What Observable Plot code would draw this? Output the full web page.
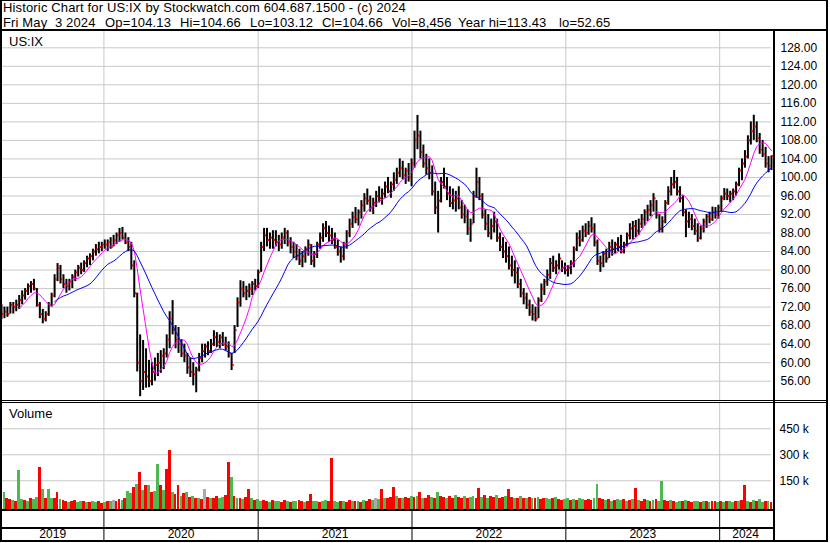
<!DOCTYPE html>
<html><head><meta charset="utf-8">
<script src="https://cdn.jsdelivr.net/npm/d3@7"></script>
<script src="https://cdn.jsdelivr.net/npm/@observablehq/plot@0.6"></script>
<style>
body{margin:0;background:#fff;}
#root{position:relative;width:830px;height:543px;overflow:hidden;background:#fff;font-family:Arial,"Liberation Sans",sans-serif;color:#000;}
.ln{position:absolute;background:#000;}
.txt{position:absolute;white-space:pre;font-size:13px;line-height:13px;letter-spacing:0.15px;}
.panel{position:absolute;left:0;}
</style></head>
<body><div id="root">
<div class="txt" id="t1" style="left:3px;top:1.3px"></div>
<div id="t2"></div>
<div class="panel" id="price" style="top:31px"></div>
<div class="panel" id="volume" style="top:402px"></div>
<div class="panel" id="band" style="top:509px"></div>
<div class="txt" id="lab1" style="left:9px;top:34.7px;letter-spacing:0"></div>
<div class="txt" id="lab2" style="left:9px;top:406.7px;letter-spacing:0"></div>
<div class="ln" style="left:0;top:0;width:828px;height:1px"></div>
<div class="ln" style="left:0;top:0;width:2px;height:542px"></div>
<div class="ln" style="left:826px;top:0;width:2px;height:542px"></div>
<div class="ln" style="left:0;top:540px;width:828px;height:2px"></div>
<div class="ln" style="left:0;top:29px;width:828px;height:2px"></div>
<div class="ln" style="left:0;top:400px;width:828px;height:1px"></div>
<div class="ln" style="left:0;top:402px;width:828px;height:1px"></div>
<div class="ln" style="left:0;top:509px;width:775px;height:2px"></div>
<div class="ln" style="left:0;top:527px;width:775px;height:2px"></div>
<div class="ln" style="left:773px;top:31px;width:2px;height:511px"></div>
</div>
<script>
// ---------- text ----------
const titleLine = "Historic Chart for US:IX by Stockwatch.com 604.687.1500 - (c) 2024";
const infoFields = ["Fri May  3 2024", "Op=104.13", "Hi=104.66", "Lo=103.12", "Cl=104.66", "Vol=8,456", "Year hi=113.43", "lo=52.65"];
const symbolLabel = "US:IX";
const volumeLabel = "Volume";
// layout (left edge of each info field, px)
const infoLeft = [3, 105, 180, 250, 322, 392, 458, 559];

// ---------- data (weekly, first week ending 2019-05-03) ----------
const startDate = "2019-05-03";
const endDate = "2024-05-03";
const yearLabels = ["2019", "2020", "2021", "2022", "2023", "2024"];
const priceTicks = [56, 60, 64, 68, 72, 76, 80, 84, 88, 92, 96, 100, 104, 108, 112, 116, 120, 124, 128];
const volumeTicks = [150000, 300000, 450000];

const hi = [
72.5,72,72,73,73,73.5,74.5,75.5,76,77,77.5,78,76,73,71.5,71,73,75,79,81.4,81,79,78,78,79,80,81,81.5,82,83,
83.5,
84.5,85.5,86,86,86.5,86.5,87,87.5,88,89, 89.2,88,87,86,82,75,66,64.8,63,60.5, 60,61,62,62.6,63,66,71,73.4,68,67.6, 65,64,62,61,60,59,62,64,64,64.5, 65,66.9,66.5,66,66.5,65.5,64.5,62,68,74, 77.7,77.5,76.5,77,77.5,78,80,86,89,89, 88,
88.5,
88.5,87.5,88,89,88.5,87,86,85.5,84.5,84, 85,86.5,85.5,84,86,88,90,90.5,89.5,89, 88,86.5,85,86,88.5,91,92.5,93.5,93,95, 96.5,97.5,96,95.5,97,98,97.5,99,100,99, 101,102,104,103.5,102,103,104,110,113.4,110, 107,105,104,102.5,99,97,100,102,100,98,
97.5,
97,98,95,94,93,91,97,102,100,96.5, 93,92,91,92.5,91,88,87,86,85,83, 82,80.5,78,76,75,73.5,72.5,72,74,77, 78,80,82.5,83,82,83.5,82,81.5,81,82, 85,88,88.5,89.5,90,90.5,91.3,90,86.5,83, 84,84.5,86,86.5,86,87,87.5,86,88,90,
90.5,
90.7,91,92,93,94,95,96.5,95,92,91.5, 95,98,100,101.5,100,98,96,93,92.5,92, 91,90,89.5,91,92,92.5,93.6,93.5,94,96, 97.6,97.5,97,97.5,99,102,104,105.8,109,112, 113.43,112,109.5,108,106.5,104.5,104.66
];
const lo = [
69.3,69.5,69.8,70.5,70.5,71,71.5,72.5,73.5,74.5,75,75.5,72,69.5,68.4,68.8,70,72,74,77.5,77,76,75,75.5,76,77.5,78.5,79,79.5,80.5,
81,
82,83,83.5,84,84.5,84,84.5,85,85.5,86, 86.5,85.5,84,80,74,58,52.65,54,54.5,54.6, 55,56,57,57.7,58.5,61,63,66,63,62, 61.1,60,57.5,56.8,55,53.5,58,60,61,61.5, 62,63.5,63.3,63,63.5,62.5,61,58.3,62,67.6, 72,74,73.4,74,74.5,75.5,76,79.5,84,85, 84.5,
84.5,
85,84,84.5,85.5,85,83.5,82.5,82,81,80.5, 81.5,83,81,80.5,82.5,84.5,86,87,86,85.5, 84.5,83,81.5,82,84.5,87,89,90,89.5,91, 92.5,94,92.5,92,93.5,94.5,94,95.5,96.5,95.5, 97,98.5,100,99.5,98.5,99,98,102,106,104, 102,100.5,99.5,96,92,88,94.5,97.5,95,93.5,
93,
92.5,93,91,90,87.5,86,90,95.5,95,91, 88.5,87,86.5,88,86,84,82.5,81.5,80,78.5, 77,76,74,72.5,71.5,70,69,68.8,69.5,73, 74.5,76.5,78,79.5,79,80,79.5,79,78.5,79, 80.5,84,85,86,87,87.5,88,85,81,79.5, 80.5,81.5,82.5,83,83.5,84,83.5,83.5,85,86.5,
86.5,
87,87.5,89,89.5,90.5,91.5,92.5,91,88,88, 90,94,96,97.5,96,94.5,91.5,87,89,88.5, 87.5,86,86.5,88,89,90,90.5,91,91,92.5, 95,95,94.5,95,96,98,99.3,102,104,107, 108,107.5,105,104.3,102,101,101.5
];
const cl = [
70.5,71,70.5,72.5,72,72.5,73.5,74.5,75.5,76.5,77,76,72.5,70.5,69.5,70.5,72.5,74.5,78,80.5,78,77,76.5,77.5,78.5,79.5,80.5,80,81.5,82.5,
83,
84,84.5,85,85.5,85.5,86,85,86.5,87.5,88, 87,86,85,81,75,60,56,58,57,56, 58,59.5,60,61.5,62,65,69.5,67,65,64, 62,61.5,59,58,57.5,58.5,61,62.5,63.5,62.5, 64,65.5,64.5,65.5,64,63.5,62,59.5,67,73, 76,75,75.5,76,77,76.5,79.5,85,87.5,86.5, 87,
86.5,
86,85.5,87,88,86,85,84,83,82,83, 84.5,85.5,82,83.5,85.5,87,89,88,87.5,86.5, 85,84,83,85.5,88,90,91.5,91,92.5,94, 95.5,95,93.5,94.5,96,95.5,96.5,98,97,98.5, 99.5,101,102,100.5,101.5,100,103,108,109,105.5, 103,102,101,97,93.5,95,99,98,96.5,94.5,
95,
95.5,93.5,92,91.5,89,90,96,99,96,92, 90,88,89.5,90.5,87,85,84,83,81,80, 79.5,77,75,74,72.5,71,70.5,69.5,73.5,76, 77.5,79,81.5,80.5,81,82.5,80.5,80,80.5,81.5, 84.5,87,86.5,88.5,88,89.5,89,86,82,81.5, 83.5,82.5,85,84.5,85.5,85,84,85.5,87.5,89,
89.5,
88.5,90,91,92.5,93,94,95.5,92,89,90.5, 94.5,97,98.5,99,97,95.5,92.5,90.5,91,89.5, 88.5,87,89,90.5,91.5,91,92.5,92,93.5,95.5, 96.5,96,96.5,97,98.5,101.5,103,104.5,108,110, 111,108.5,106,105,103,102.5,104.66
];
// weekly volume, thousands
const vol = [
60,85,45,40,35,30,210,40,35,30, 45,40,55,225,98,50,100,45,50,85, 40,35,30,25,30,35,25,30,28,25,
25,30,25,30,20,25,30,28,35,30, 40,35,45,90,75,110,130,200,95,125, 120,85,90,243,120,95,215,325,80,70,
125,60,75,80,55,60,50,45,40,100, 55,50,45,60,50,55,65,254,170,60, 50,45,40,55,100,45,35,40,30,35,
30,25,35,30,28,25,35,30,25,30, 28,35,30,25,30,70,30,28,25,30, 35,30,279,30,25,28,30,25,35,30,
28,30,25,35,30,40,35,45,40,100, 50,45,55,110,60,45,50,55,45,60, 55,60,85,50,45,65,55,50,85,60,
55,45,60,50,65,55,45,60,50,55, 60,50,105,55,65,50,60,55,65,50, 55,60,100,55,50,45,60,50,45,55,
50,45,55,40,45,50,40,45,55,40, 35,40,45,35,40,35,45,40,35,40, 35,45,130,45,40,35,40,30,35,40,
35,40,30,35,40,107,35,30,40,35, 30,35,40,30,148,35,30,35,30,25, 30,28,35,30,25,30,28,25,30,28,
25,30,28,25,30,25,28,30,25,28, 30,35,120,30,25,35,28,40,25,30, 28,25
];
// u = up (green), d = down (red), n = unchanged (grey)
const volDir = (
"uudduduudu"+"duududuudd"+"uddudduudu"+"duuddudund"+"duduududud"+"uduududdud"+
"dududududn"+"dudduuddud"+"ududduduud"+"duduuddudu"+"uddudduudu"+"udduududdu"+
"dududdunud"+"udddududdu"+"dududdudud"+"dudduddudu"+"uddududdud"+"duddududud"+
"ududduudud"+"duududuudd"+"duuddududu"+"ududududdu"+"duduuddudu"+"ududduudud"+
"uddududuud"+"uddududuud"+"ud").split("");

if (![lo, cl, vol, volDir].every(a => a.length === hi.length)) {
  throw new Error("length mismatch " + [hi, lo, cl, vol, volDir].map(a => a.length).join(","));
}

// ---------- build ----------
const DAY = 864e5;
const t0 = new Date(startDate + "T00:00:00Z");
const t1 = new Date(endDate + "T00:00:00Z");
const rows = hi.map((h, i) => ({
  d: new Date(+t0 + i * 7 * DAY), hi: h, lo: lo[i], cl: cl[i], v: vol[i] * 1000, dir: volDir[i]
}));
const yearStarts = yearLabels.slice(1).map(y => new Date(Date.UTC(+y, 0, 1)));
const yearMids = yearLabels.map(y => {
  const a = Math.max(+t0, Date.UTC(+y, 0, 1));
  const b = Math.min(+t1, Date.UTC(+y + 1, 0, 1));
  return {label: y, x: new Date((a + b) / 2)};
});

document.getElementById("t1").textContent = titleLine;
const t2 = document.getElementById("t2");
infoFields.forEach((s, i) => {
  const el = document.createElement("div");
  el.className = "txt";
  el.style.left = infoLeft[i] + "px";
  el.style.top = "16.3px";
  el.textContent = s;
  t2.appendChild(el);
});
document.getElementById("lab1").textContent = symbolLabel;
document.getElementById("lab2").textContent = volumeLabel;

const FONT = "Arial, 'Liberation Sans', sans-serif";
const GRID = "#c8c8c8";
const common = {
  width: 830, marginTop: 0, marginBottom: 0, marginLeft: 1, marginRight: 59,
  style: {fontFamily: FONT, fontSize: "12px", background: "transparent", color: "#000", overflow: "visible"}
};
const X = {type: "utc", domain: [t0, t1], axis: null};

const price = Plot.plot({
  ...common, height: 369,
  x: X,
  y: {domain: [51.83, 131.52], axis: "right", ticks: priceTicks, tickFormat: d => d.toFixed(2),
      tickSize: 0, tickPadding: 9, label: null},
  marks: [
    Plot.ruleY(priceTicks, {stroke: GRID}),
    Plot.ruleX(yearStarts, {stroke: GRID}),
    Plot.ruleX(rows, {x: "d", y1: "lo", y2: "hi", stroke: "#000", strokeWidth: 2}),
    Plot.link(rows, {x1: d => new Date(+d.d + 1 * DAY), x2: d => new Date(+d.d + 5 * DAY),
      y1: "cl", y2: "cl", stroke: "#ff0000", strokeWidth: 2}),
    Plot.lineY(rows, Plot.windowY({k: 7, anchor: "end", strict: true}, {x: "d", y: "cl", stroke: "#ff00ff", strokeWidth: 1})),
    Plot.lineY(rows, Plot.windowY({k: 19, anchor: "end", strict: true}, {x: "d", y: "cl", stroke: "#0000ff", strokeWidth: 1}))
  ]
});
document.getElementById("price").appendChild(price);

const VMIN = -15600;
const volume = Plot.plot({
  ...common, height: 107,
  x: X,
  y: {domain: [VMIN, 601700], axis: "right", ticks: volumeTicks, tickFormat: d => (d / 1000) + " k",
      tickSize: 0, tickPadding: 8, label: null},
  color: {domain: ["u", "d", "n"], range: ["#4db84d", "#ff0000", "#aaaaaa"]},
  marks: [
    Plot.ruleY(volumeTicks, {stroke: GRID}),
    Plot.ruleX(yearStarts, {stroke: GRID}),
    Plot.rect(rows, {x1: d => new Date(+d.d - 3.4 * DAY), x2: d => new Date(+d.d + 3.4 * DAY),
      y1: VMIN, y2: "v", fill: "dir", shapeRendering: "crispEdges"})
  ]
});
document.getElementById("volume").appendChild(volume);

const band = Plot.plot({
  ...common, height: 33,
  x: X,
  y: {domain: [0, 33], range: [0, 33], axis: null},
  marks: [
    Plot.ruleX(yearStarts, {y1: 2, y2: 31, stroke: "#000"}),
    Plot.text(yearMids, {x: "x", y: 25, text: "label", fill: "#000"})
  ]
});
document.getElementById("band").appendChild(band);
</script>
</body></html>
